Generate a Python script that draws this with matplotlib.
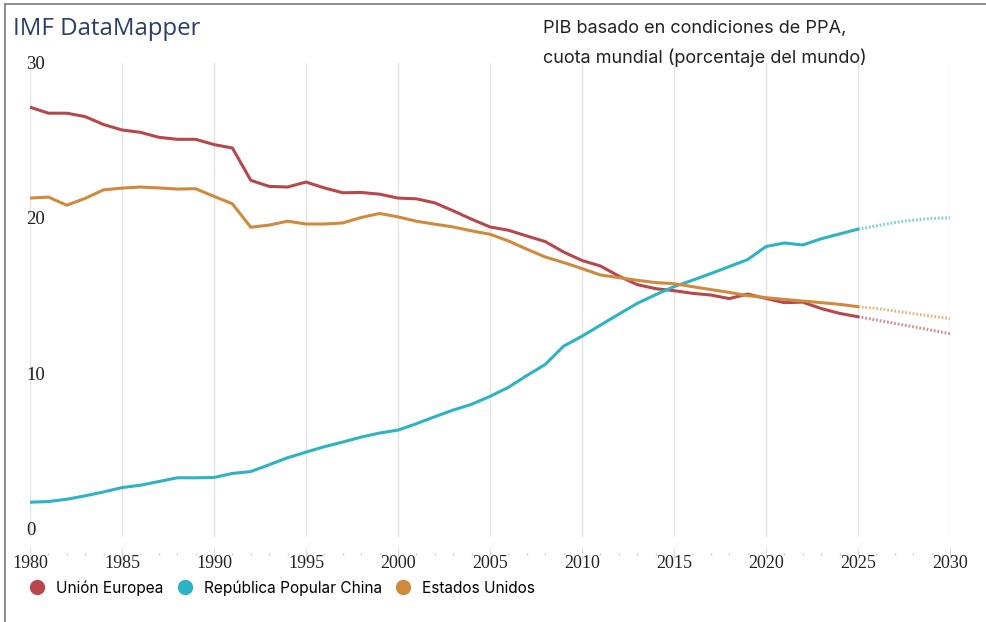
import matplotlib
matplotlib.use('Agg')
import matplotlib.pyplot as plt
from matplotlib.lines import Line2D
from matplotlib.ticker import MultipleLocator
import matplotlib.transforms as mtransforms

years = list(range(1980, 2026))
proj_years = list(range(2025, 2031))

# Unión Europea
eu = [27.66, 27.27, 27.27, 27.05, 26.54, 26.19, 26.04, 25.72, 25.59, 25.59,
	25.25, 25.03, 22.95, 22.56, 22.52, 22.84, 22.46, 22.15, 22.17, 22.06,
	21.81, 21.76, 21.50, 20.99, 20.45, 19.95, 19.74, 19.37, 19.01, 18.34,
	17.79, 17.44, 16.79, 16.24, 15.98, 15.85, 15.68, 15.57, 15.34, 15.63,
	15.35, 15.08, 15.11, 14.70, 14.39, 14.17]
eu_proj = [14.17, 13.96, 13.74, 13.53, 13.31, 13.08]

# República Popular China
china = [2.24, 2.28, 2.43, 2.65, 2.90, 3.18, 3.33, 3.57, 3.81, 3.81,
	3.83, 4.09, 4.21, 4.65, 5.10, 5.46, 5.81, 6.11, 6.43, 6.69,
	6.88, 7.29, 7.74, 8.17, 8.54, 9.05, 9.63, 10.39, 11.10, 12.28,
	12.92, 13.63, 14.34, 15.03, 15.59, 16.11, 16.52, 16.95, 17.40, 17.85,
	18.69, 18.92, 18.79, 19.19, 19.50, 19.81]
china_proj = [19.81, 20.02, 20.24, 20.39, 20.50, 20.54]

# Estados Unidos
us = [21.81, 21.87, 21.35, 21.79, 22.34, 22.45, 22.52, 22.46, 22.39, 22.41,
	21.92, 21.44, 19.93, 20.07, 20.32, 20.14, 20.14, 20.21, 20.56, 20.82,
	20.60, 20.32, 20.13, 19.95, 19.70, 19.48, 19.05, 18.52, 18.02, 17.66,
	17.27, 16.86, 16.69, 16.52, 16.37, 16.30, 16.11, 15.92, 15.74, 15.53,
	15.40, 15.29, 15.18, 15.08, 14.97, 14.82]
us_proj = [14.82, 14.71, 14.54, 14.37, 14.21, 14.05]

labels = ['Unión Europea', 'República Popular China', 'Estados Unidos']
colors = ['#b8474c', '#2db3c4', '#d08a3e']
y_ticks = [0, 10, 20, 30]

W, H = 987, 622
fig = plt.figure(figsize=(W / 100, H / 100), dpi=100)
ax = fig.add_axes([30 / W, 1 - 537 / H, 920 / W, 474 / H])
ax.set_xlim(1980, 2030)
ax.set_ylim(0, 30.5)

for s, p, c in zip([eu, china, us], [eu_proj, china_proj, us_proj], colors):
	ax.plot(years, s, color=c, lw=2.2, solid_capstyle='round', zorder=3)
	ax.plot(proj_years, p, color=c, lw=2.2, alpha=0.6, linestyle=(0, (0.6, 0.6)), zorder=3)

for side in ['top', 'right', 'left', 'bottom']:
	ax.spines[side].set_visible(False)
ax.spines['bottom'].set_position(('outward', 12))

ax.xaxis.set_major_locator(MultipleLocator(5))
ax.xaxis.set_minor_locator(MultipleLocator(1))
ax.grid(axis='x', which='major', color='#e3e3e3', lw=1, zorder=0)
ax.tick_params(axis='x', which='major', direction='inout', length=8, width=0.8,
	color='#d8d8e6', pad=-3, labelsize=13, labelcolor='#222222')
ax.tick_params(axis='x', which='minor', direction='inout', length=2, width=1, color='#c8c8dc')
for lab in ax.get_xticklabels():
	lab.set_fontfamily('Liberation Serif')
ax.set_yticks([])

trans = mtransforms.blended_transform_factory(fig.transFigure, ax.transData)
for v in y_ticks:
	ax.text(26 / W, v + 0.12, str(v), transform=trans, ha='left', va='baseline',
		fontsize=13.5, family='Liberation Serif', color='#1e1e1e')

fig.text(13 / W, 1 - 29 / H, 'IMF DataMapper', fontsize=17.3, family='Open Sans',
	color='#2b3d6b', va='center', ha='left')
fig.text(543 / W, 1 - 28 / H, 'PIB basado en condiciones de PPA,', fontsize=13,
	family='Inter', color='#222222', va='center', ha='left')
fig.text(543 / W, 1 - 58 / H, 'cuota mundial (porcentaje del mundo)', fontsize=13,
	family='Inter', color='#222222', va='center', ha='left')

handles = [Line2D([], [], marker='o', linestyle='', markersize=10, color=c) for c in colors]
fig.legend(handles, labels, loc='center left', bbox_to_anchor=(14 / W, 1 - 588 / H),
	ncol=3, frameon=False, handletextpad=0.65, columnspacing=0.75, handlelength=1.2,
	prop={'family': 'Inter', 'size': 11.1})

# marco de la imagen
fig.add_artist(Line2D([5 / W, 5 / W], [0, 1 - 4 / H], color='#7a7a7a', lw=1.2))
fig.add_artist(Line2D([5 / W, 1], [1 - 4 / H, 1 - 4 / H], color='#7a7a7a', lw=1.2))

fig.savefig('out.png', dpi=100)
